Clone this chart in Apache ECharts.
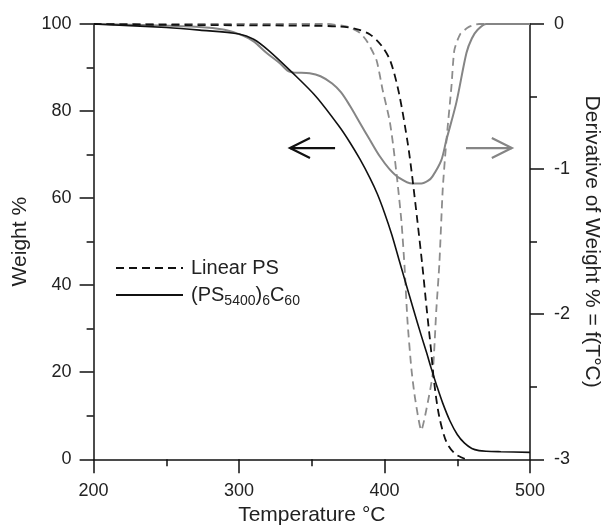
<!DOCTYPE html>
<html>
<head>
<meta charset="utf-8">
<script src="https://cdn.jsdelivr.net/npm/echarts@6/dist/echarts.min.js"></script>
<style>
html,body{margin:0;padding:0;background:#fff;}
#c{width:603px;height:528px;}
</style>
</head>
<body>
<div id="c"></div>
<script>
// ---- data ----
var xTicks = [200, 300, 400, 500];
var leftTicks = [0, 20, 40, 60, 80, 100];
var rightTicks = [-3, -2, -1, 0];

// Linear PS weight % (black dashed, left axis)
var linT = [200, 250, 300, 350, 370, 380, 390, 398, 404, 410, 416, 419, 422.5, 426, 429, 432, 434, 437.5, 442.5, 448, 453, 456];
var linW = [100, 99.8, 99.7, 99.6, 99.4, 98.9, 97.6, 95, 91.5, 84, 72.5, 65, 55, 44.5, 34.5, 25, 18, 10, 4, 1.4, 0.4, 0];

// (PS5400)6C60 weight % (black solid, left axis)
var starT = [200, 250, 273, 300, 310, 320, 337, 353, 369, 376, 383, 390, 395, 400, 405, 410, 415, 420, 425, 429, 432, 436, 440, 445, 450, 455, 460, 465, 470, 480, 500];
var starW = [100, 99.2, 98.6, 97.7, 96.5, 94, 88.7, 83.3, 76.4, 72.9, 69, 64.6, 61, 56.6, 51.6, 45.8, 40, 34.3, 28.7, 24.4, 21, 16.8, 12.9, 8.8, 5.7, 3.7, 2.5, 2.0, 1.85, 1.75, 1.6];

// Linear PS derivative (grey dashed, right axis)
var linDT = [200, 360, 375, 383, 388, 394.5, 398.6, 403.4, 406, 409, 411.7, 413.8, 415.8, 418.5, 421, 425.3, 428.7, 433, 435.6, 437.7, 440, 442.4, 446, 448, 452, 458, 465, 500];
var linD = [0, 0, -0.02, -0.06, -0.12, -0.25, -0.45, -0.66, -0.84, -1.1, -1.37, -1.68, -2.05, -2.38, -2.58, -2.8, -2.66, -2.42, -1.97, -1.65, -1.14, -0.82, -0.43, -0.18, -0.07, -0.02, 0, 0];

// (PS5400)6C60 derivative (grey solid, right axis)
var starDT = [200, 273, 290, 302.6, 310, 319, 328, 335, 348.5, 356, 364, 370, 376, 383, 390, 396.6, 403.4, 410, 419, 425.3, 430, 433, 439, 442.5, 449.4, 456.3, 460, 464, 470, 500];
var starD = [0, -0.02, -0.04, -0.08, -0.12, -0.2, -0.27, -0.33, -0.34, -0.36, -0.41, -0.47, -0.56, -0.68, -0.8, -0.91, -1.0, -1.06, -1.1, -1.1, -1.08, -1.05, -0.94, -0.8, -0.54, -0.2, -0.1, -0.04, 0, 0];

// annotation arrows (data coords: [T, Weight%])
var leftArrow = [[366, 71.5], [335, 71.5]];
var rightArrow = [[456, 71.5], [487.5, 71.5]];

function pairs(a, b) { return a.map(function (v, i) { return [v, b[i]]; }); }

var FONT = "'Liberation Sans', Arial, sans-serif";
var TXT = '#222';

var chart = echarts.init(document.getElementById('c'), null, {renderer: 'canvas'});

var axisCommon = {
  axisLine: {show: true, onZero: false, lineStyle: {color: '#111', width: 1.5}},
  axisTick: {show: true, inside: false, length: 14, lineStyle: {color: '#111', width: 1.5}},
  minorTick: {show: true, splitNumber: 2, length: 7, lineStyle: {color: '#111', width: 1.5}},
  splitLine: {show: false},
  minorSplitLine: {show: false},
  axisLabel: {color: TXT, fontSize: 18, fontFamily: FONT},
  nameTextStyle: {color: TXT, fontSize: 21, fontFamily: FONT}
};

function merge(a, b) { return Object.assign({}, a, b); }

var option = {
  animation: false,
  backgroundColor: '#fff',
  grid: {left: 93.6, right: 73, top: 24, bottom: 68.7, containLabel: false, outerBoundsMode: 'none'},
  xAxis: merge(axisCommon, {
    type: 'value', min: xTicks[0], max: xTicks[xTicks.length - 1], interval: 100,
    name: 'Temperature °C', nameLocation: 'middle', nameGap: 38,
    axisLabel: merge(axisCommon.axisLabel, {margin: 23})
  }),
  yAxis: [
    merge(axisCommon, {
      type: 'value', position: 'left', min: leftTicks[0], max: leftTicks[leftTicks.length - 1], interval: 20,
      name: 'Weight %', nameLocation: 'middle', nameGap: 57,
      axisLabel: merge(axisCommon.axisLabel, {margin: 22})
    }),
    merge(axisCommon, {
      type: 'value', position: 'right', min: rightTicks[0], max: rightTicks[rightTicks.length - 1], interval: 1,
      name: 'Derivative of Weight % = f(T°C)', nameLocation: 'middle', nameGap: 45, nameRotate: -90,
      axisLabel: merge(axisCommon.axisLabel, {margin: 24})
    })
  ],
  legend: {
    show: true, orient: 'vertical', left: 110, top: 253,
    itemWidth: 67, itemHeight: 14, itemGap: 4,
    itemStyle: {opacity: 0},
    data: ['Linear PS', 'star'],
    textStyle: {
      color: TXT, fontSize: 20, fontFamily: FONT, padding: [0, 0, 0, 3],
      rich: {
        n: {fontSize: 20, fontFamily: FONT, color: TXT, lineHeight: 22},
        s: {fontSize: 14, fontFamily: FONT, color: TXT, lineHeight: 10, padding: [12, 0, 0, 0]}
      }
    },
    formatter: function (name) {
      if (name === 'star') return '{n|(PS}{s|5400}{n|)}{s|6}{n|C}{s|60}';
      return '{n|' + name + '}';
    }
  },
  series: [
    {
      name: 'Linear PS', type: 'line', yAxisIndex: 0, data: pairs(linT, linW),
      symbol: 'none', smooth: 0.3, z: 3,
      lineStyle: {color: '#111', width: 1.8, type: [8, 5]}, itemStyle: {color: '#111'}
    },
    {
      name: 'star', type: 'line', yAxisIndex: 0, data: pairs(starT, starW),
      symbol: 'none', smooth: 0.3, z: 3,
      lineStyle: {color: '#111', width: 1.6}, itemStyle: {color: '#111'}
    },
    {
      name: 'Linear PS deriv', type: 'line', yAxisIndex: 1, data: pairs(linDT, linD),
      symbol: 'none', smooth: 0.2, z: 2,
      lineStyle: {color: '#8c8c8c', width: 1.8, type: [8, 5]}, itemStyle: {color: '#8c8c8c'}
    },
    {
      name: 'star deriv', type: 'line', yAxisIndex: 1, data: pairs(starDT, starD),
      symbol: 'none', smooth: 0.3, z: 2,
      lineStyle: {color: '#858585', width: 2}, itemStyle: {color: '#858585'}
    }
  ]
};

chart.setOption(option);

function arrow(pts, color, dir) {
  var a = chart.convertToPixel({xAxisIndex: 0, yAxisIndex: 0}, pts[0]);
  var b = chart.convertToPixel({xAxisIndex: 0, yAxisIndex: 0}, pts[1]);
  var hx = b[0] - dir * 20;
  return [
    {type: 'line', shape: {x1: a[0], y1: a[1], x2: b[0], y2: b[1]}, style: {stroke: color, lineWidth: 2.2}, z: 10},
    {type: 'polyline', shape: {points: [[hx, b[1] - 10], [b[0], b[1]], [hx, b[1] + 10]]}, style: {stroke: color, lineWidth: 2.2, fill: null}, z: 10}
  ];
}

chart.setOption({
  graphic: [].concat(arrow(leftArrow, '#111', -1), arrow(rightArrow, '#858585', 1))
});
</script>
</body>
</html>
